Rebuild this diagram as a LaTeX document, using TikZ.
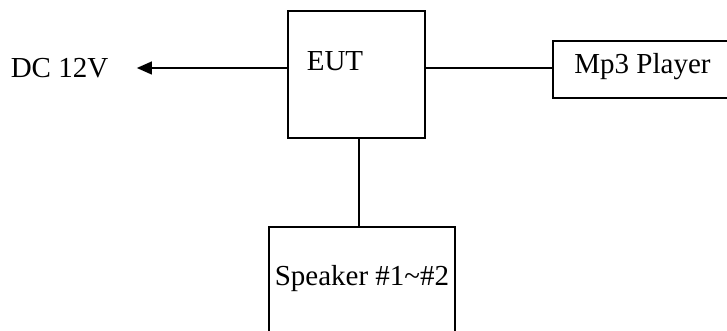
\documentclass[tikz,border=0pt]{standalone}
\usepackage{fontspec}
\setmainfont{Liberation Serif}
\usetikzlibrary{arrows.meta,calc,positioning}

\begin{document}
\begin{tikzpicture}[x=1pt, y=-1pt, line width=1.3pt,
  font=\fontsize{29}{34}\selectfont,
  box/.style={draw, rectangle, inner sep=0pt},
  txt/.style={inner sep=0pt}]
  \useasboundingbox (0,0) rectangle (727,331);
  \clip (0,0) rectangle (727,331);
  \node (eut) [box, minimum width=137pt, minimum height=127pt] at (356.5,74.5) {};
  \node (eutname) [txt] at (335,61.4) {EUT};
  \node (dc) [txt] at (59.5,68) {DC 12V};
  \node (mp3) [box, minimum width=179pt, minimum height=57pt, text depth=12.6pt] at (642.5,69.5) {Mp3 Player};
  \node (spk) [box, minimum width=186pt, minimum height=118pt, text depth=22pt] at (362,286) {Speaker \#1\textasciitilde\#2};
  \path[-{Triangle[length=15pt,width=13pt]}]
  (eut.west |- dc.east) edge ([xshift=28pt]dc.east);
  \path
  (eut.east |- dc.east) edge (mp3.west |- dc.east)
  ([xshift=2.5pt]eut.south) coordinate (s) edge (s |- spk.north);
\end{tikzpicture}
\end{document}
